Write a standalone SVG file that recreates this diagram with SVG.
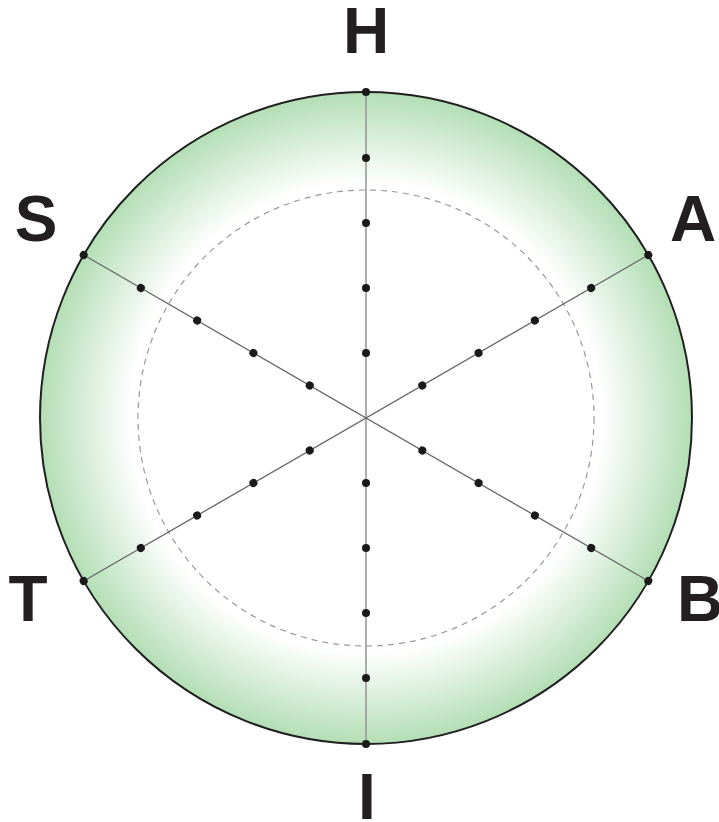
<svg xmlns="http://www.w3.org/2000/svg" width="719" height="822" viewBox="0 0 719 822">
<style>
.lbl{font-family:"Liberation Sans",Arial,sans-serif;font-weight:bold;font-size:64px;fill:#231f20;text-anchor:middle}
.dot{fill:#1a1a1a}
.sp{stroke:#666;stroke-width:1.3;fill:none}
.spv{stroke:#999;stroke-width:1.6;fill:none}
</style>
<defs>
<radialGradient id="g" cx="366" cy="418" r="326" gradientUnits="userSpaceOnUse">
<stop offset="0" stop-color="#fff"/>
<stop offset="0.72" stop-color="#fff"/>
<stop offset="1" stop-color="#b3deb5"/>
</radialGradient>
<circle id="d" r="4" class="dot"/>
</defs>
<g id="disc">
<circle cx="366" cy="418" r="326" fill="url(#g)" stroke="#1f1f1f" stroke-width="2"/>
<circle cx="366" cy="418" r="228" fill="none" stroke="#999" stroke-width="1.2" stroke-dasharray="6,5"/>
</g>
<g id="connectors">
<line class="spv" x1="366" y1="92" x2="366" y2="744"/>
<line class="sp" x1="83.7" y1="255" x2="648.3" y2="581"/>
<line class="sp" x1="83.7" y1="581" x2="648.3" y2="255"/>
</g>
<g id="dots">
<g id="spoke-H" transform="translate(366,418) rotate(0)"><use href="#d" y="-65"/><use href="#d" y="-130"/><use href="#d" y="-195"/><use href="#d" y="-260"/><use href="#d" y="-326"/></g>
<g id="spoke-A" transform="translate(366,418) rotate(60)"><use href="#d" y="-65"/><use href="#d" y="-130"/><use href="#d" y="-195"/><use href="#d" y="-260"/><use href="#d" y="-326"/></g>
<g id="spoke-B" transform="translate(366,418) rotate(120)"><use href="#d" y="-65"/><use href="#d" y="-130"/><use href="#d" y="-195"/><use href="#d" y="-260"/><use href="#d" y="-326"/></g>
<g id="spoke-I" transform="translate(366,418) rotate(180)"><use href="#d" y="-65"/><use href="#d" y="-130"/><use href="#d" y="-195"/><use href="#d" y="-260"/><use href="#d" y="-326"/></g>
<g id="spoke-T" transform="translate(366,418) rotate(240)"><use href="#d" y="-65"/><use href="#d" y="-130"/><use href="#d" y="-195"/><use href="#d" y="-260"/><use href="#d" y="-326"/></g>
<g id="spoke-S" transform="translate(366,418) rotate(300)"><use href="#d" y="-65"/><use href="#d" y="-130"/><use href="#d" y="-195"/><use href="#d" y="-260"/><use href="#d" y="-326"/></g>
</g>
<g id="label-H"><text class="lbl" x="366" y="53">H</text></g>
<g id="label-S"><text class="lbl" x="36" y="241">S</text></g>
<g id="label-A"><text class="lbl" x="693" y="241">A</text></g>
<g id="label-T"><text class="lbl" x="28" y="621">T</text></g>
<g id="label-B"><text class="lbl" x="700" y="621">B</text></g>
<g id="label-I"><text class="lbl" x="367" y="819">I</text></g>
</svg>
